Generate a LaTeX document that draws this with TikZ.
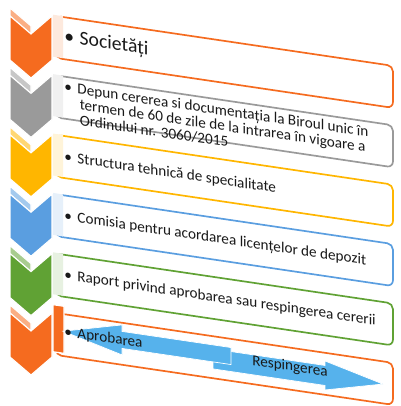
\documentclass[tikz,border=0pt]{standalone}
\usepackage{fontspec}
\setmainfont{Carlito}
\definecolor{cOrange}{RGB}{245,107,31}
\definecolor{cGray}{RGB}{154,154,154}
\definecolor{cYellow}{RGB}{255,182,0}
\definecolor{cBlue}{RGB}{90,158,224}
\definecolor{cGreen}{RGB}{96,162,52}
\definecolor{cArrow}{RGB}{86,178,236}

\begin{document}
\begin{tikzpicture}[x=0.025cm, y=-0.025cm,
    chev/.style={draw=white, line width=0.8pt},
    box/.style={draw, line width=1.2pt, rounded corners=4pt, fill=white,
        minimum width=8.425cm, minimum height=1.05cm, inner sep=0pt,
        anchor=north west, transform shape},
    txt/.style={anchor=west, inner sep=0pt, align=left, text=black!90,
        font=\fontsize{10.8}{11}\selectfont, transform shape},
    arrowst/.style={fill=cArrow, draw=white, line width=0.5pt}
]
    \useasboundingbox (0,0) rectangle (400,406);

    % list boxes, slanted
    \begin{scope}[shift={(55,0)}, yslant=-0.148]
        \node[box, draw=cOrange] (b1) at (0,15) {};
        \node[box, draw=cGray] (b2) at (0,74.4) {};
        \node[box, draw=cYellow] (b3) at (0,133.8) {};
        \node[box, draw=cBlue] (b4) at (0,193.2) {};
        \node[box, draw=cGreen] (b5) at (0,252.6) {};
        \node[box, draw=cOrange] (b6) at (0,312) {};

        \fill[cOrange!15] (-2,15) rectangle (8,57);
        \fill[cGray!15] (-2,74.4) rectangle (8,116.4);
        \fill[cYellow!15] (-2,133.8) rectangle (8,175.8);
        \fill[cBlue!15] (-2,193.2) rectangle (8,235.2);
        \fill[cGreen!15] (-2,252.6) rectangle (8,294.6);
        \filldraw[chev, fill=cOrange] (-2,305) rectangle (9,352);

        % approval / rejection arrows
        \filldraw[arrowst] (158,325.5) -- (270,325.5) -- (270,321) -- (328,335.5)
            -- (270,350) -- (270,345.5) -- (158,345.5) -- cycle;
        \filldraw[arrowst] (8,330) -- (67,315) -- (67,321.5) -- (176,321.5)
            -- (176,338.5) -- (67,338.5) -- (67,345) -- cycle;

        \node[txt, font=\fontsize{14}{16}\selectfont] (t1) at (9,36) {\textbullet\hspace{4pt}Societăți};
        \node[txt] (t2) at (9,101) {\textbullet\hspace{4pt}Depun cererea si documentația la Biroul unic în\\
            \hspace{11pt}termen de 60 de zile de la intrarea în vigoare a\\
            \hspace{11pt}Ordinului nr. 3060/2015};
        \node[txt] (t3) at (9,156) {\textbullet\hspace{4pt}Structura tehnică de specialitate};
        \node[txt] (t4) at (9,215) {\textbullet\hspace{4pt}Comisia pentru acordarea licențelor de depozit};
        \node[txt] (t5) at (9,274) {\textbullet\hspace{4pt}Raport privind aprobarea sau respingerea cererii};
        \node[txt] (t6) at (9,331) {\textbullet\hspace{4pt}Aprobarea};
        \node[txt] (t7) at (197,332) {Respingerea};
    \end{scope}

    % chevrons, bottom one first
    \foreach \i/\c in {6/cOrange,5/cGreen,4/cBlue,3/cYellow,2/cGray,1/cOrange} {
        \pgfmathsetmacro{\yy}{16+59.4*(\i-1)}
        \filldraw[chev, fill=\c!55!white] (10,\yy-8) -- (31,\yy+10) -- (31,\yy+18) -- (10,\yy) -- cycle;
        \filldraw[chev, fill=\c] (10,\yy) -- (31,\yy+18) -- (52,\yy) -- (52,\yy+44)
            -- (31,\yy+62) -- (10,\yy+44) -- cycle;
    }
\end{tikzpicture}
\end{document}
